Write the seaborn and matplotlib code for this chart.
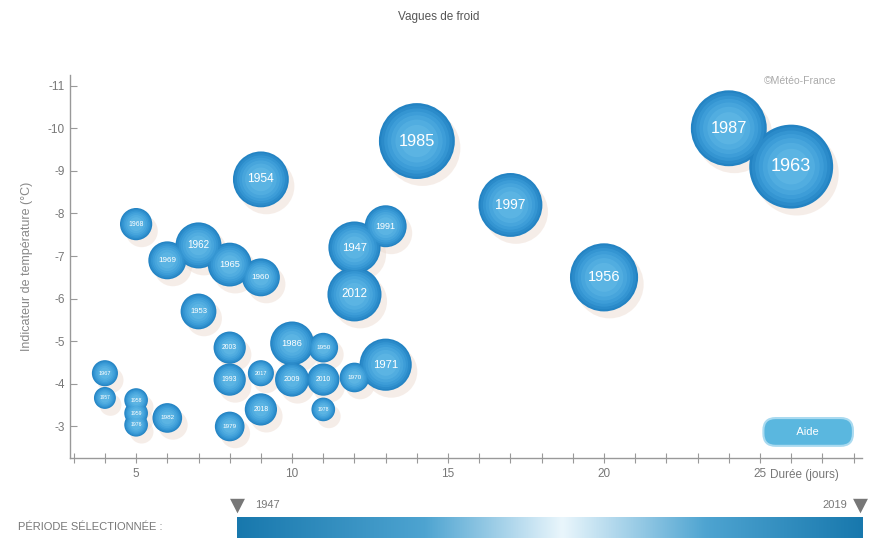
import numpy as np
import pandas as pd
import seaborn as sns
import matplotlib.pyplot as plt
from matplotlib import patheffects
from matplotlib.colors import LinearSegmentedColormap
from matplotlib.ticker import MultipleLocator

# vagues de froid : durée (jours), indicateur de température (°C), ampleur (taille de la bulle)
annees = ['1963', '1987', '1985', '1956', '1997', '1954', '2012', '1947', '1971',
          '1962', '1986', '1965', '1991', '1969', '1960', '1953', '2009', '1968',
          '2003', '1993', '2010', '2018', '1950', '1970', '1979', '1982', '2017',
          '1967', '1978', '1958', '1959', '1976', '1957']
duree = [26, 24, 14, 20, 17, 9, 12, 12, 13,
         7, 10, 8, 13, 6, 9, 7, 10, 5,
         8, 8, 11, 9, 11, 12, 8, 6, 9,
         4, 11, 5, 5, 5, 4]
temperature = [-9.1, -10.0, -9.7, -6.5, -8.2, -8.8, -6.1, -7.2, -4.45,
               -7.25, -4.95, -6.8, -7.7, -6.9, -6.5, -5.7, -4.1, -7.75,
               -4.85, -4.1, -4.1, -3.4, -4.85, -4.15, -3.0, -3.2, -4.25,
               -4.25, -3.4, -3.62, -3.31, -3.04, -3.67]
ampleur = [176, 144, 144, 116, 102, 78, 73, 68, 68,
           53, 48, 48, 44, 36, 36, 32, 29, 26,
           26, 26, 26, 26, 22, 22, 22, 22, 17,
           17, 14, 14, 14, 14, 12]

df = pd.DataFrame({'annee': annees, 'duree': duree,
                   'temperature': temperature, 'ampleur': ampleur})

sns.set_style('white')
plt.rcParams['font.family'] = ['Liberation Sans', 'DejaVu Sans']
plt.rcParams['axes.unicode_minus'] = False

fig = plt.figure(figsize=(8.78, 5.5), dpi=100)
ax = fig.add_axes([0.0797, 0.1673, 0.9021, 0.6963])

smax = 3650
# sphere: concentric layers from dark rim to light centre
couches = [(1.00, '#2383c3', 1.0), (0.88, '#2d8dcb', 0.9), (0.74, '#3697d3', 0.9),
           (0.60, '#3f9fd9', 0.9), (0.46, '#49a7dd', 0.9), (0.32, '#53aee1', 0.9),
           (0.18, '#5db5e4', 0.9)]
for k, (f, c, a) in enumerate(couches):
    sns.scatterplot(data=df, x='duree', y='temperature', size='ampleur',
                    sizes=(0, smax * f), size_norm=(0, max(ampleur)),
                    color=c, alpha=a, linewidth=0, legend=False, ax=ax, zorder=2 + k * 0.01)
    if k == 0:
        ax.collections[-1].set_path_effects([
            patheffects.SimplePatchShadow(offset=(4, -5), shadow_rgbFace='#eddcd2', alpha=0.5),
            patheffects.Normal()])

for _, r in df.iterrows():
    rayon = np.sqrt(r['ampleur'] * 10)
    ax.text(r['duree'], r['temperature'], r['annee'], color='white',
            fontsize=rayon * 0.31, ha='center', va='center', zorder=5)

ax.set_xlim(2.88, 28.27)
ax.set_ylim(-2.26, -11.25)
ax.set_xticks([5, 10, 15, 20, 25])
ax.xaxis.set_minor_locator(MultipleLocator(1))
ax.set_yticks(range(-11, -2))
ax.tick_params(axis='x', which='both', direction='inout', length=7, width=0.8,
               color='#999999', labelsize=8.5, labelcolor='#777777', bottom=True)
ax.tick_params(axis='y', direction='in', length=5, width=0.8, color='#999999',
               labelsize=8.5, labelcolor='#777777', left=True)
for s in ['top', 'right']:
    ax.spines[s].set_visible(False)
for s in ['left', 'bottom']:
    ax.spines[s].set_color('#999999')
    ax.spines[s].set_linewidth(1.0)
ax.set_xlabel('')
ax.set_ylabel('Indicateur de température (°C)', fontsize=9, color='#888888', labelpad=11)

ax.text(0.884, -0.045, 'Durée (jours)', transform=ax.transAxes, fontsize=8.5,
        color='#777777', ha='left', va='center')
ax.text(0.922, 0.985, '©Météo-France', transform=ax.transAxes, fontsize=7.5,
        color='#aaaaaa', ha='center', va='center')
ax.text(0.932, 0.068, '        Aide        ', transform=ax.transAxes, fontsize=8,
        color='white', ha='center', va='center', zorder=6,
        bbox=dict(boxstyle='round,pad=0.8,rounding_size=1.1', fc='#5ab7df',
                  ec='#a9daf0', lw=1.5))

fig.text(0.5, 0.969, 'Vagues de froid', fontsize=8.5, color='#555555', ha='center', va='center')

# période sélectionnée
fig.text(0.0205, 0.042, 'PÉRIODE SÉLECTIONNÉE :', fontsize=8, color='#777777',
         ha='left', va='center')
bar = fig.add_axes([0.270, 0.0218, 0.712, 0.038])
grad = np.linspace(0, 1, 256)
cmap = LinearSegmentedColormap.from_list(
    'periode', [(0, '#1878ad'), (0.3, '#4ea4d1'), (0.52, '#eaf6fc'),
                (0.75, '#4ea4d1'), (1, '#1878ad')])
bar.imshow(grad[np.newaxis, :], aspect='auto', cmap=cmap)
bar.axis('off')
fig.text(0.270, 0.082, '▼', fontsize=14, color='#777777', ha='center', va='center',
         family='DejaVu Sans')
fig.text(0.980, 0.082, '▼', fontsize=14, color='#777777', ha='center', va='center',
         family='DejaVu Sans')
fig.text(0.290, 0.082, '1947', fontsize=8, color='#777777', ha='left', va='center')
fig.text(0.965, 0.082, '2019', fontsize=8, color='#777777', ha='right', va='center')

fig.savefig('out.png', dpi=100)
